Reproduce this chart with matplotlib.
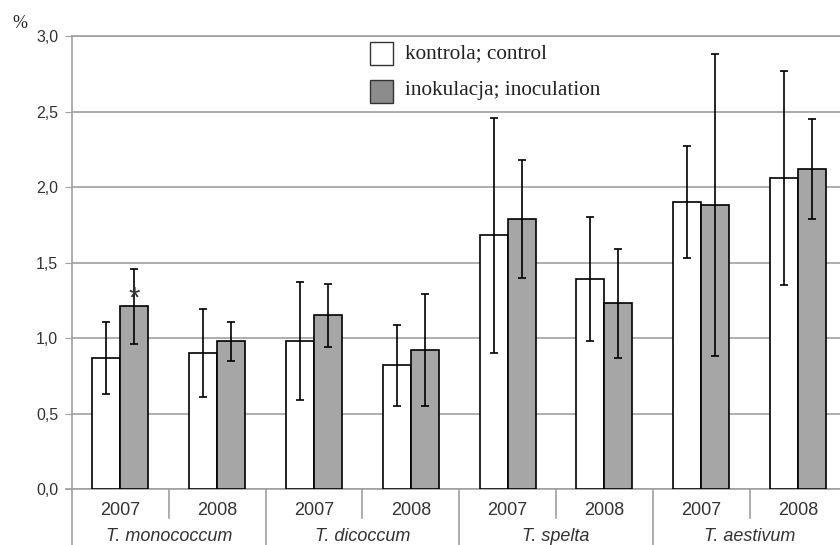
import matplotlib.pyplot as plt
import numpy as np
from matplotlib.patches import Rectangle

# Dane
species = ["T. monococcum", "T. dicoccum", "T. spelta", "T. aestivum"]
years = ["2007", "2008"]
control = [0.87, 0.90, 0.98, 0.82, 1.68, 1.39, 1.90, 2.06]
control_sd = [0.24, 0.29, 0.39, 0.27, 0.78, 0.41, 0.37, 0.71]
inoc = [1.21, 0.98, 1.15, 0.92, 1.79, 1.23, 1.88, 2.12]
inoc_sd = [0.25, 0.13, 0.21, 0.37, 0.39, 0.36, 1.00, 0.33]
signif = [True, False, False, False, False, False, False, False]

GRID = "#a0a0a0"
TXT = "#333333"
SANS = "Liberation Sans"
SERIF = "Liberation Serif"

fig = plt.figure(figsize=(8.4, 5.45), dpi=100)
ax = fig.add_axes([72 / 840, 1 - 489 / 545, 774.4 / 840, (489 - 36.3) / 545])

x = np.arange(len(control))
w = 0.29
err_kw = dict(ecolor="black", elinewidth=1.2, capsize=3, capthick=1.2)
ax.bar(x - w / 2, control, w, yerr=control_sd, color="white",
       edgecolor="black", linewidth=1.2, zorder=3, error_kw=err_kw)
ax.bar(x + w / 2, inoc, w, yerr=inoc_sd, color="#a6a6a6",
       edgecolor="black", linewidth=1.2, zorder=3, error_kw=err_kw)

# gwiazdka istotności (glif siedzi wysoko w linii, stąd mały offset)
for i, s in enumerate(signif):
    if s:
        ax.text(x[i] + w / 2, inoc[i] + 0.055, "*", ha="center", va="center",
                fontsize=21, family=SANS, color=TXT, zorder=5)

ax.set_xlim(-0.5, len(control) - 0.5)
ax.set_ylim(0, 3.0)
yt = np.arange(0, 3.01, 0.5)
ax.set_yticks(yt)
ax.set_yticklabels([f"{v:.1f}".replace(".", ",") for v in yt],
                   fontsize=11.5, family=SANS, color=TXT)
ax.tick_params(axis="y", length=5, color=GRID, pad=5)
ax.set_xticks([])
ax.yaxis.grid(True, color=GRID, linewidth=1.2, zorder=0)
ax.set_axisbelow(True)
ax.spines["right"].set_visible(False)
for sp in ["left", "bottom", "top"]:
    ax.spines[sp].set_color(GRID)
    ax.spines[sp].set_linewidth(1.2)

# Etykiety kategorii pod osią
for i in x:
    ax.text(i, -0.14, years[i % 2], ha="center", va="center",
            fontsize=13, family=SANS, color=TXT, clip_on=False)
for j, sp in enumerate(species):
    ax.text(2 * j + 0.5, -0.315, sp, ha="center", va="center",
            fontsize=13, family=SANS, style="italic", color=TXT, clip_on=False)
for i in range(len(control)):
    b = i - 0.5
    y_end = -0.40 if i % 2 == 0 else -0.19
    ax.plot([b, b], [0, y_end], color=GRID, linewidth=1.2, clip_on=False)
ax.plot([-0.56, -0.5], [0, 0], color=GRID, linewidth=1.2, clip_on=False)

# Legenda
for k, (lab, fc) in enumerate([("kontrola; control", "white"),
                               ("inokulacja; inoculation", "#8c8c8c")]):
    y0 = 1 - (65 + 37.5 * k) / 545
    fig.patches.append(Rectangle((370 / 840, y0), 23 / 840, 23 / 545,
                                 transform=fig.transFigure, facecolor=fc,
                                 edgecolor="#333333", linewidth=1.0))
    fig.text(405 / 840, y0 + 11.5 / 545, lab, ha="left", va="center",
             fontsize=15.3, family=SERIF, color="#222222")

fig.text(20 / 840, 1 - 23 / 545, "%", ha="center", va="center",
         fontsize=13, family=SERIF, color="#222222")

fig.savefig("out.png", dpi=100, facecolor="white")
